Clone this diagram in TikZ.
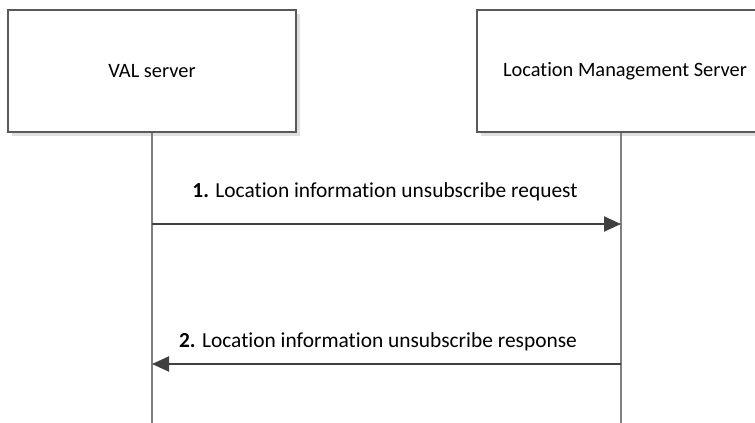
\documentclass[tikz,border=0pt]{standalone}
\usepackage{fontspec}
\setmainfont{Carlito}[Ligatures=CommonOff]
\usetikzlibrary{arrows.meta,shadows}
\definecolor{boxline}{HTML}{595959}
\definecolor{lifeline}{HTML}{7F7F7F}
\definecolor{msgline}{HTML}{404040}
\begin{document}
\begin{tikzpicture}[x=1pt,y=-1pt,font=\fontsize{20.4}{24}\selectfont,box/.style={draw=boxline,line width=1.3pt,fill=white,minimum height=122pt,drop shadow={shadow xshift=4pt,shadow yshift=-4pt,fill=black!12,opacity=1}},life/.style={draw=lifeline,line width=1.2pt},msg/.style={draw=msgline,line width=2pt,-{Triangle[length=17pt,width=15pt]}},label/.style={font=\fontsize{21.4}{25}\selectfont}]
\clip (0,0) rectangle (755,423); \useasboundingbox (0,0) rectangle (755,423);
\node[box,minimum width=288pt] (val) at (152,71) {VAL server};
\node[box,minimum width=296pt] (lms) at (625,71) {Location Management Server};
\coordinate (valend) at (152,423); \coordinate (lmsend) at (621,423);
\draw[life] (val.south) -- (valend); \draw[life] (lms.south -| lmsend) -- (lmsend);
\coordinate (req1) at (152,224); \coordinate (req2) at (621,224); \coordinate (rsp1) at (621,364); \coordinate (rsp2) at (152,364);
\draw[msg] (req1) -- (req2); \draw[msg] (rsp1) -- (rsp2);
\node[label] (reqlabel) at (385,192) {\textbf{1.} Location information unsubscribe request};
\node[label] (rsplabel) at (378,342) {\textbf{2.} Location information unsubscribe response};
\end{tikzpicture}
\end{document}
